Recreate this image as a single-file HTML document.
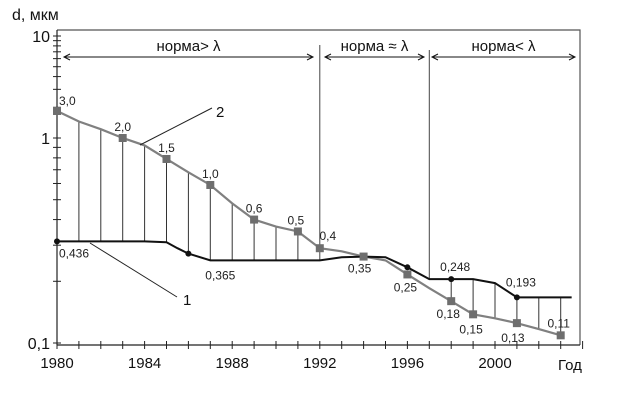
<!DOCTYPE html>
<html><head><meta charset="utf-8">
<style>
body{margin:0;background:#fff;}
svg{display:block;font-family:"Liberation Sans",sans-serif;}
</style></head>
<body>
<svg id="chart" width="635" height="401" viewBox="0 0 635 401" xmlns="http://www.w3.org/2000/svg">
<rect x="0" y="0" width="635" height="401" fill="#fff"/>
<g id="g"></g>
</svg>
<script>
const years2 = [1980,1981,1982,1983,1984,1985,1986,1987,1988,1989,1990,1991,1992,1993,1994,1995,1996,1997,1998,1999,2000,2001,2002,2003];
const values2 = [1.84,1.45,1.22,1.0,0.92,0.79,0.68,0.59,0.48,0.40,0.37,0.35,0.29,0.28,0.264,0.253,0.216,0.185,0.16,0.138,0.132,0.125,0.117,0.109];
const markerYears2 = [1980,1983,1985,1987,1989,1991,1992,1994,1996,1998,1999,2001,2003];
const markerValues2 = [1.84,1.0,0.79,0.59,0.40,0.35,0.29,0.264,0.216,0.16,0.138,0.125,0.109];
const markerLabels2 = ["3,0","2,0","1,5","1,0","0,6","0,5","0,4","0,35","0,25","0,18","0,15","0,13","0,11"];
const years1 = [1980,1981,1982,1983,1984,1985,1985.5,1986,1987,1988,1989,1990,1991,1992,1993,1994,1995,1996,1997,1998,1999,2000,2001,2002,2003,2003.5];
const values1 = [0.313,0.313,0.313,0.313,0.313,0.31,0.29,0.273,0.253,0.253,0.253,0.253,0.253,0.253,0.262,0.264,0.262,0.234,0.205,0.205,0.205,0.196,0.167,0.167,0.167,0.167];
const markerYears1 = [1980,1986,1996,1998,2001];
const markerValues1 = [0.313,0.273,0.234,0.205,0.167];
const labels1Years = [1980,1987,1998,2001];
const labels1Values = [0.313,0.253,0.205,0.167];
const labels1Text = ["0,436","0,365","0,248","0,193"];
const hatchYears = [1981,1982,1983,1984,1985,1986,1987,1988,1989,1990,1991,1998,1999,2000,2001,2002,2003];
const xTickLabels = [1980,1984,1988,1992,1996,2000];
const yTickValues = [10,1,0.1];
const yTickLabels = ["10","1","0,1"];
const boundaryYears = [1992,1997];

const NS="http://www.w3.org/2000/svg";
const g=document.getElementById('g');
function X(yr){return 57+(yr-1980)*21.9;}
function Y(v){const l=Math.log10(v);return l>=0?138-102*l:138-205*l;}
function el(tag,attrs,txt){const e=document.createElementNS(NS,tag);for(const k in attrs)e.setAttribute(k,attrs[k]);if(txt!==undefined)e.textContent=txt;g.appendChild(e);return e;}

// frame
let e=el('path',{d:'M57,30 L580,30 L580,345',fill:'none',stroke:'#555','stroke-width':1.2});

e=el('line',{x1:57,y1:30,x2:57,y2:345,stroke:'#222','stroke-width':1.2});

e=el('line',{x1:57,y1:345,x2:580,y2:345,stroke:'#222','stroke-width':1.2});


// x ticks
for(let yr=1980;yr<=2004;yr++){
  e=el('line',{x1:X(yr),y1:341,x2:X(yr),y2:349,stroke:'#222'});
  
}
xTickLabels.forEach(t=>{
  e=el('text',{x:X(t),y:368,'font-size':15,'text-anchor':'middle',fill:'#111'},String(t));
  
});
e=el('text',{x:558,y:370,'font-size':15,fill:'#111'},'Год');


// y ticks
[0.1,1].forEach(d=>{for(let m=1;m<=10;m++){const v=d*m;
  e=el('line',{x1:53,y1:Y(v),x2:61,y2:Y(v),stroke:'#222'});
  }});
yTickValues.forEach((v,i)=>{
  e=el('text',{x:50,y:Y(v)+6,'font-size':16,'text-anchor':'end',fill:'#111'},yTickLabels[i]);
  
});
e=el('text',{x:12,y:20,'font-size':16,fill:'#111'},'d, мкм');


// region arrows
function interp(ys,vs,yr){for(let i=0;i<ys.length-1;i++){if(yr>=ys[i]&&yr<=ys[i+1]){const t=(yr-ys[i])/(ys[i+1]-ys[i]);return Math.exp(Math.log(vs[i])*(1-t)+Math.log(vs[i+1])*t);}}return vs[vs.length-1];}
boundaryYears.forEach((b,i)=>{
  e=el('line',{x1:X(b),y1:i?50:45,x2:X(b),y2:Y(interp(years1,values1,b)),stroke:'#444','stroke-width':1});
  
});
const regions=[[64,313,'норма> λ'],[325,424,'норма ≈ λ'],[432,575,'норма< λ']];
regions.forEach(r=>{
  e=el('line',{x1:r[0],y1:57,x2:r[1],y2:57,stroke:'#111','stroke-width':1});
  
  el('path',{d:`M${r[0]+6},54 L${r[0]},57 L${r[0]+6},60`,fill:'none',stroke:'#111'});
  el('path',{d:`M${r[1]-6},54 L${r[1]},57 L${r[1]-6},60`,fill:'none',stroke:'#111'});
  e=el('text',{x:(r[0]+r[1])/2,y:51,'font-size':15,'text-anchor':'middle',fill:'#111'},r[2]);
  
});

// hatch verticals
hatchYears.forEach(yr=>{
  e=el('line',{x1:X(yr),y1:Y(interp(years2,values2,yr)),x2:X(yr),y2:Y(interp(years1,values1,yr)),stroke:'#333','stroke-width':1});
  
});

// series 2 (grey)
e=el('polyline',{points:years2.map((y,i)=>X(y)+','+Y(values2[i])).join(' '),fill:'none',stroke:'#808080','stroke-width':2.2});

// series 1 (black)
e=el('polyline',{points:years1.map((y,i)=>X(y)+','+Y(values1[i])).join(' '),fill:'none',stroke:'#111','stroke-width':2});


markerYears2.forEach((yr,i)=>{
  e=el('rect',{x:X(yr)-4,y:Y(markerValues2[i])-4,width:8,height:8,fill:'#6e6e6e'});
  
});
markerYears1.forEach((yr,i)=>{
  e=el('circle',{cx:X(yr),cy:Y(markerValues1[i]),r:3,fill:'#111'});
  
});
// labels series 2
const off2=[[2,-6,'start'],[0,-7,'middle'],[0,-7,'middle'],[0,-7,'middle'],[0,-7,'middle'],[-2,-7,'middle'],[8,-8,'middle'],[-4,16,'middle'],[-2,17,'middle'],[-3,17,'middle'],[-2,19,'middle'],[-4,19,'middle'],[-2,-8,'middle']];
markerYears2.forEach((yr,i)=>{
  const o=off2[i];
  e=el('text',{x:X(yr)+o[0],y:Y(markerValues2[i])+o[1],'font-size':12,'text-anchor':o[2],fill:'#222'},markerLabels2[i]);
  
});
const off1=[[2,16,'start'],[10,19,'middle'],[4,-8,'middle'],[4,-11,'middle']];
labels1Years.forEach((yr,i)=>{
  const o=off1[i];
  e=el('text',{x:X(yr)+o[0],y:Y(labels1Values[i])+o[1],'font-size':12,'text-anchor':o[2],fill:'#222'},labels1Text[i]);
  
});
// leader annotations
e=el('line',{x1:140,y1:145,x2:212,y2:108,stroke:'#222'});

e=el('text',{x:216,y:117,'font-size':15,fill:'#111'},'2');

e=el('line',{x1:90,y1:243,x2:177,y2:297,stroke:'#222'});

e=el('text',{x:183,y:305,'font-size':15,fill:'#111'},'1');

</script>
</body></html>
